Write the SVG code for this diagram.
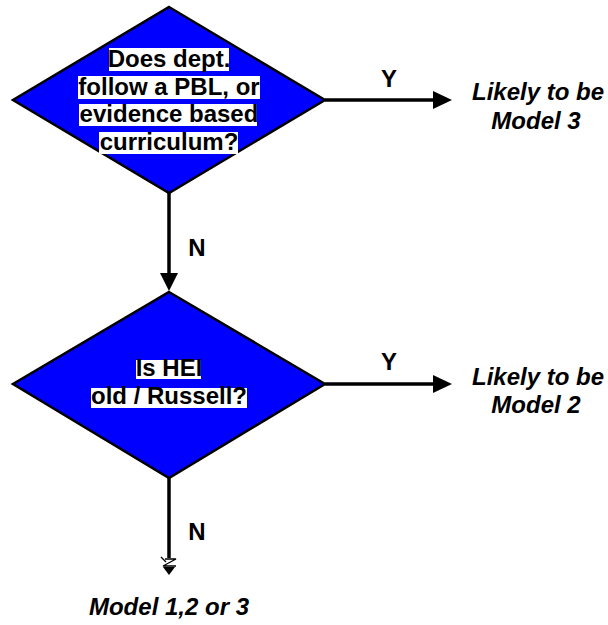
<svg xmlns="http://www.w3.org/2000/svg" width="608" height="625" viewBox="0 0 608 625">
<style>
.dia{fill:#0000ff;stroke:#000;stroke-width:2.5;stroke-linejoin:miter}
.hl{fill:#fff}
.q{font-family:"Liberation Sans",Arial,sans-serif;font-weight:bold;font-size:24px;fill:#000;text-anchor:middle}
.res{font-family:"Liberation Sans",Arial,sans-serif;font-weight:bold;font-style:italic;font-size:24px;fill:#000;text-anchor:middle}
.lbl{font-family:"Liberation Sans",Arial,sans-serif;font-weight:bold;font-size:24px;fill:#000;text-anchor:middle}
.ln{stroke:#000;stroke-width:3.5;fill:none}
.ah{fill:#000}
</style>
<rect width="608" height="625" fill="#fff"/>
<g id="connectors">
<line class="ln" x1="169" y1="193" x2="169" y2="276"/>
<polygon class="ah" points="160,273 178,273 169,291"/>
<line class="ln" x1="325" y1="100" x2="436" y2="100"/>
<polygon class="ah" points="433,91 452,100 433,109"/>
<line class="ln" x1="325" y1="384" x2="436" y2="384"/>
<polygon class="ah" points="433,375 452,384 433,393"/>
<line class="ln" x1="169" y1="478" x2="169" y2="558"/>
<path d="M161,557 L166,562 M165,559 L176,559 L163,566 L176,566" stroke="#000" stroke-width="1.3" fill="none"/>
<polygon class="ah" points="163,567 175,567 169,575"/>
<text class="lbl" x="389" y="87">Y</text>
<text class="lbl" x="389" y="370">Y</text>
<text class="lbl" x="197" y="256">N</text>
<text class="lbl" x="197" y="540">N</text>
</g>
<g id="decision1">
<polygon class="dia" points="169,7 325,100 169,193 13,100"/>
<rect class="hl" x="109" y="48" width="120" height="23"/>
<rect class="hl" x="78" y="76" width="182" height="23"/>
<rect class="hl" x="79" y="104" width="178" height="22"/>
<rect class="hl" x="99" y="132" width="139" height="22"/>
<text class="q" x="169" y="67">Does dept.</text>
<text class="q" x="169" y="95">follow a PBL, or</text>
<text class="q" x="169" y="122">evidence based</text>
<text class="q" x="169" y="150">curriculum?</text>
</g>
<g id="decision2">
<polygon class="dia" points="169,292 325,384 169,478 13,384"/>
<rect class="hl" x="136" y="360" width="65" height="19"/>
<rect class="hl" x="91" y="388" width="156" height="20"/>
<text class="q" x="169" y="376">Is HEI</text>
<text class="q" x="169" y="404">old / Russell?</text>
</g>
<g id="result3">
<text class="res" x="538" y="100">Likely to be</text>
<text class="res" x="536" y="129">Model 3</text>
</g>
<g id="result2">
<text class="res" x="538" y="385">Likely to be</text>
<text class="res" x="536" y="413">Model 2</text>
</g>
<g id="result123">
<text class="res" x="169" y="615">Model 1,2 or 3</text>
</g>
</svg>
